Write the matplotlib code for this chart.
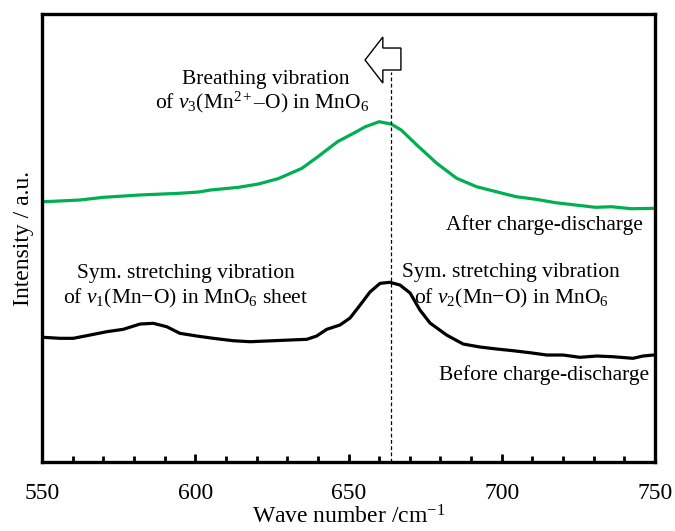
import matplotlib
matplotlib.use("Agg")
import matplotlib.pyplot as plt
from matplotlib.patches import Polygon
from matplotlib.ticker import MultipleLocator

plt.rcParams['font.family'] = ['Liberation Serif', 'DejaVu Serif']
plt.rcParams['mathtext.fontset'] = 'custom'
plt.rcParams['mathtext.rm'] = 'Liberation Serif'
plt.rcParams['mathtext.it'] = 'Liberation Serif:italic'
plt.rcParams['mathtext.bf'] = 'Liberation Serif:bold'

# Raman spectra (arbitrary intensity units, offset for display)
wn_after = [550.6, 562.3, 570.1, 581.7, 594.7, 601.1, 605.0, 614.1, 620.6, 627.0,
            634.8, 640.0, 646.4, 651.6, 655.5, 660.0, 663.9, 667.2, 672.3, 678.8,
            685.3, 691.8, 698.2, 704.7, 711.2, 717.6, 724.1, 730.6, 735.8, 742.3, 750.0]
int_after = [260.3, 262.0, 264.7, 267.0, 268.7, 270.0, 272.0, 274.7, 278.0, 283.3,
             293.7, 305.3, 320.3, 328.7, 335.3, 340.3, 338.0, 332.0, 317.0, 298.7,
             283.7, 275.3, 270.3, 265.3, 262.7, 259.3, 257.0, 254.7, 255.3, 253.3, 253.7]

wn_before = [550.4, 555.9, 560.2, 565.7, 571.1, 576.5, 582.0, 586.3, 590.7, 595.0,
             600.5, 605.9, 612.4, 617.9, 625.5, 630.9, 636.4, 639.6, 642.9, 647.2,
             650.5, 653.8, 657.0, 660.3, 663.5, 666.8, 670.1, 673.3, 676.6, 682.0,
             687.4, 692.9, 698.4, 703.7, 709.2, 714.7, 720.0, 725.5, 731.0, 736.3,
             742.8, 746.1, 749.4]
int_before = [124.7, 123.7, 123.7, 127.0, 130.3, 132.7, 138.0, 138.7, 135.3, 128.7,
              126.0, 123.7, 121.3, 120.3, 121.3, 122.0, 122.7, 126.0, 132.7, 137.0,
              144.0, 157.0, 170.0, 178.7, 179.7, 177.0, 169.0, 152.0, 139.0, 127.0,
              118.0, 115.0, 113.0, 111.3, 109.3, 107.0, 107.0, 104.7, 106.0, 105.3,
              103.7, 106.0, 107.0]

peak_line = 664.0
x_ticks = [550, 600, 650, 700, 750]

fig = plt.figure(figsize=(6.75, 5.31), dpi=100)
ax = fig.add_axes([0.0622, 0.1299, 0.9082, 0.8437])

ax.plot(wn_after, int_after, color='#00B050', lw=2.3, solid_capstyle='round',
        solid_joinstyle='round')
ax.plot(wn_before, int_before, color='black', lw=2.3, solid_capstyle='round',
        solid_joinstyle='round')

ax.plot([peak_line, peak_line], [0, 390], color='black', lw=0.9, ls=(0, (3, 2)))

# hollow arrow pointing toward lower wave number
arrow = Polygon([(655.4, 402), (661.2, 425), (661.2, 414), (667.1, 414),
                 (667.1, 392), (661.2, 392), (661.2, 379)],
                closed=True, facecolor='white', edgecolor='black', lw=1.0)
ax.add_patch(arrow)

ax.set_xlim(550, 750)
ax.set_ylim(0, 448)
ax.set_xticks(x_ticks)
ax.xaxis.set_minor_locator(MultipleLocator(10))
ax.set_yticks([])
ax.tick_params(axis='x', which='major', direction='in', length=6, width=2,
               labelsize=17, pad=15)
ax.tick_params(axis='x', which='minor', direction='in', length=4, width=2)
for s in ax.spines.values():
    s.set_linewidth(2.4)

ax.set_xlabel('Wave number /cm$^{-1}$', fontsize=17, labelpad=1)
ax.set_ylabel('Intensity / a.u.', fontsize=17, labelpad=6)

fs = 15.5
ax.text(623, 383, 'Breathing vibration', ha='center', va='center', fontsize=fs)
ax.text(622, 360, 'of $v_3$(Mn$^{2+}$\u2013O) in MnO$_6$', ha='center', va='center', fontsize=fs)
ax.text(597, 189, 'Sym. stretching vibration', ha='center', va='center', fontsize=fs)
ax.text(597, 164, 'of $v_1$(Mn\u2212O) in MnO$_6$ sheet', ha='center', va='center', fontsize=fs)
ax.text(703, 190, 'Sym. stretching vibration', ha='center', va='center', fontsize=fs)
ax.text(703, 164, 'of $v_2$(Mn\u2212O) in MnO$_6$', ha='center', va='center', fontsize=fs)
ax.text(748, 87, 'Before charge-discharge', ha='right', va='center', fontsize=fs)
ax.text(746, 237, 'After charge-discharge', ha='right', va='center', fontsize=fs)

fig.savefig('out.png', dpi=100)
